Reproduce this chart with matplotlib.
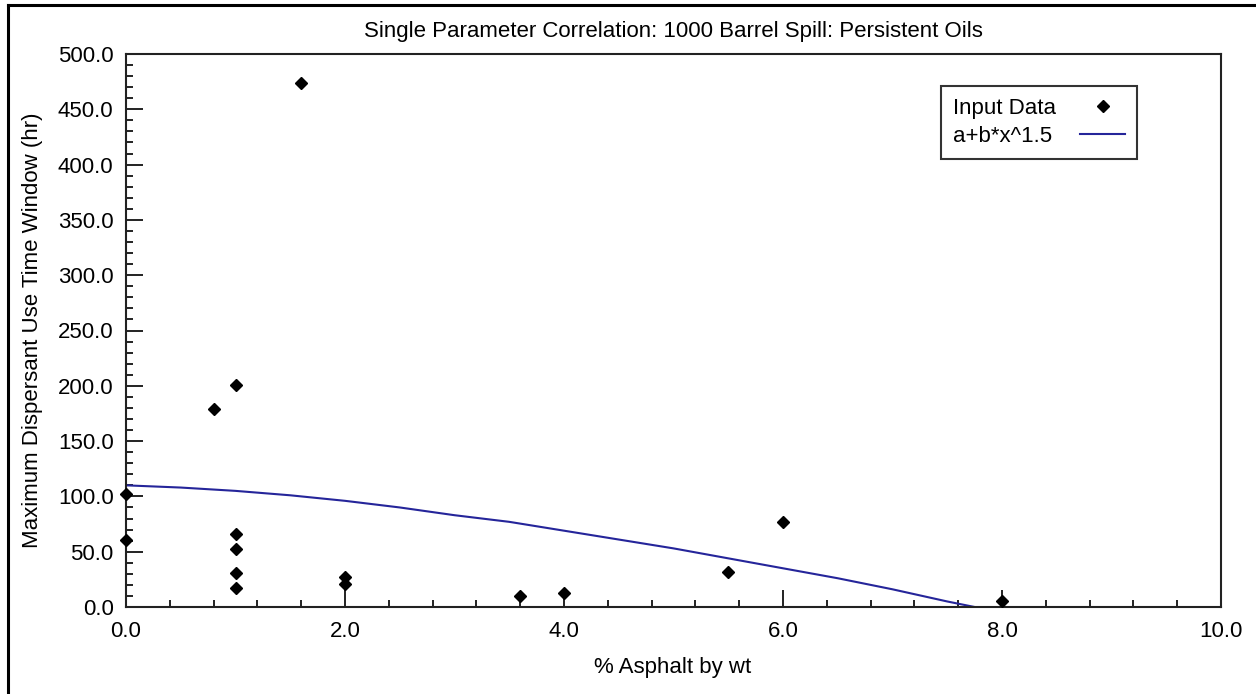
import matplotlib.pyplot as plt
from matplotlib.lines import Line2D
from matplotlib.ticker import MultipleLocator, FormatStrFormatter

plt.rcParams["font.family"] = ["Liberation Sans", "DejaVu Sans"]

# Input data points (% asphalt by wt, max dispersant use time window in hr)
asphalt_pct = [0.0, 0.0, 0.8, 1.0, 1.0, 1.0, 1.0, 1.0, 1.6, 2.0, 2.0, 3.6, 4.0, 5.5, 6.0, 8.0]
time_window = [102, 61, 179, 201, 66, 52, 31, 17, 474, 27, 21, 10, 13, 32, 77, 5]

# Fitted curve a+b*x^1.5
fit_x = [0.0, 0.5, 1.0, 1.5, 2.0, 2.5, 3.0, 3.5, 4.0, 4.5, 5.0, 5.5, 6.0, 6.5, 7.0, 7.5, 7.75]
fit_y = [110, 108, 105, 101, 96, 90, 83, 77, 69, 61, 53, 44, 35, 26, 16, 5, 0]

TITLE = "Single Parameter Correlation: 1000 Barrel Spill: Persistent Oils"
FS = 16
W, H = 1256, 694

fig = plt.figure(figsize=(W / 100, H / 100), dpi=100)
ax = fig.add_axes([126 / W, 1 - 607 / H, (1221 - 126) / W, (607 - 54) / H])

ax.plot(asphalt_pct, time_window, "D", color="black", markersize=6.5,
        linestyle="none", label="Input Data", clip_on=False, zorder=3)
ax.plot(fit_x, fit_y, "-", color="#25259a", linewidth=1.5, label="a+b*x^1.5")

ax.set_xlim(0, 10)
ax.set_ylim(0, 500)
ax.xaxis.set_major_locator(MultipleLocator(2))
ax.xaxis.set_minor_locator(MultipleLocator(0.4))
ax.yaxis.set_major_locator(MultipleLocator(50))
ax.yaxis.set_minor_locator(MultipleLocator(10))
ax.xaxis.set_major_formatter(FormatStrFormatter("%.1f"))
ax.yaxis.set_major_formatter(FormatStrFormatter("%.1f"))

ax.tick_params(which="both", direction="in", color="#222222", width=1.4,
               labelsize=FS, top=False, right=False)
ax.tick_params(axis="x", which="major", length=12, pad=10)
ax.tick_params(axis="y", which="major", length=12, pad=9)
ax.tick_params(which="minor", length=5)
for s in ax.spines.values():
    s.set_linewidth(1.5)
    s.set_color("#222222")

leg = ax.legend(loc="upper right", bbox_to_anchor=(1137 / W, 1 - 86 / H),
                bbox_transform=fig.transFigure, borderaxespad=0,
                markerfirst=False, fancybox=False, fontsize=FS,
                handlelength=2.0, labelspacing=0.3, borderpad=0.55,
                handletextpad=1.1)
leg.get_frame().set_edgecolor("black")
leg.get_frame().set_linewidth(1.5)

# left-align the legend labels (markerfirst=False right-aligns them)
fig.canvas.draw()
renderer = fig.canvas.get_renderer()
widths = [t.get_window_extent(renderer).width for t in leg.get_texts()]
rows = leg._legend_handle_box.get_children()[0].get_children()
for row, w in zip(rows, widths):
    row.sep = 1.1 * FS + (max(widths) - w) * 72 / fig.dpi

fig.text(673 / W, 1 - 31 / H, TITLE, ha="center", va="center", fontsize=FS)
fig.text(673 / W, 1 - 667 / H, "% Asphalt by wt", ha="center", va="center", fontsize=FS)
fig.text(33 / W, 1 - 330 / H, "Maximum Dispersant Use Time Window (hr)",
         ha="center", va="center", rotation=90, fontsize=FS)

# outer frame (only left and top edges are in view)
fig.add_artist(Line2D([8 / W, 8 / W], [0, 1 - 5 / H], color="black", linewidth=2.2))
fig.add_artist(Line2D([8 / W, 1], [1 - 5 / H, 1 - 5 / H], color="black", linewidth=2.2))

plt.savefig("out.png", dpi=100)
